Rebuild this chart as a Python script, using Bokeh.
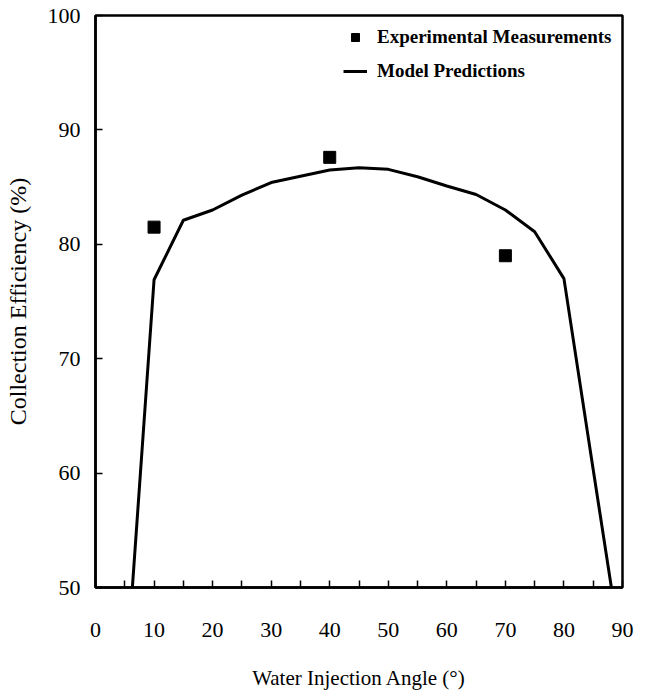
from bokeh.plotting import figure
from bokeh.models import FixedTicker, Legend, LegendItem, Range1d
from bokeh.embed import file_html
from bokeh.resources import INLINE

# Experimental measurements
exp_angle = [10, 40, 70]
exp_eff = [81.5, 87.6, 79.0]

# Model predictions
model_angle = [5, 10, 15, 20, 25, 30, 35, 40, 45, 50, 55, 60, 65, 70, 75, 80, 85, 90]
model_eff = [40.6, 76.9, 82.1, 83.0, 84.3, 85.4, 85.95, 86.5, 86.7, 86.55, 85.9, 85.1, 84.35, 83.0, 81.1, 77.0, 60.3, 43.7]

x_ticks = [0, 10, 20, 30, 40, 50, 60, 70, 80, 90]
x_minor = [5, 15, 25, 35, 45, 55, 65, 75, 85]
y_ticks = [50, 60, 70, 80, 90, 100]

FONT = "Liberation Serif"

p = figure(width=641, height=692, output_backend="svg", toolbar_location=None,
           x_range=Range1d(0, 90), y_range=Range1d(50, 100),
           min_border_left=95, min_border_right=19, min_border_top=15, min_border_bottom=105)

p.grid.visible = False
p.outline_line_color = "black"
p.outline_line_width = 2.5
p.background_fill_color = "white"
p.border_fill_color = "white"

line_r = p.line(model_angle, model_eff, line_color="black", line_width=3)
pts_r = p.scatter(exp_angle, exp_eff, marker="square", size=12,
                  fill_color="black", line_color="black")

xa = p.xaxis[0]
xa.ticker = FixedTicker(ticks=x_ticks, minor_ticks=x_minor)
xa.axis_line_width = 2.5
xa.major_tick_in = 7
xa.major_tick_out = 0
xa.minor_tick_in = 7
xa.minor_tick_out = 0
xa.major_tick_line_width = 1.5
xa.minor_tick_line_width = 1.5
xa.major_label_standoff = 35
xa.major_label_text_font = FONT
xa.major_label_text_font_size = "22px"
xa.major_label_text_color = "black"
xa.axis_label = "Water Injection Angle (°)"
xa.axis_label_text_font = FONT
xa.axis_label_text_font_style = "normal"
xa.axis_label_text_font_size = "21px"
xa.axis_label_text_color = "black"
xa.axis_label_standoff = 26

ya = p.yaxis[0]
ya.ticker = FixedTicker(ticks=y_ticks, minor_ticks=[])
ya.axis_line_width = 2.5
ya.major_tick_in = 7
ya.major_tick_out = 0
ya.major_tick_line_width = 1.5
ya.minor_tick_in = 0
ya.minor_tick_out = 0
ya.major_label_standoff = 15
ya.major_label_text_font = FONT
ya.major_label_text_font_size = "22px"
ya.major_label_text_color = "black"
ya.axis_label = "Collection Efficiency (%)"
ya.axis_label_text_font = FONT
ya.axis_label_text_font_style = "normal"
ya.axis_label_text_font_size = "24px"
ya.axis_label_text_color = "black"
ya.axis_label_standoff = 14

legend = Legend(items=[LegendItem(label="Experimental Measurements", renderers=[pts_r]),
                       LegendItem(label="Model Predictions", renderers=[line_r])],
                location=(248, 505), orientation="vertical",
                glyph_width=24, glyph_height=20, label_standoff=10, spacing=12,
                padding=0, margin=0, border_line_color=None,
                background_fill_alpha=0,
                label_text_font=FONT, label_text_font_style="bold",
                label_text_font_size="19px", label_text_color="black", label_height=20)
p.add_layout(legend, "center")

open("out.html", "w").write(file_html(p, INLINE))
